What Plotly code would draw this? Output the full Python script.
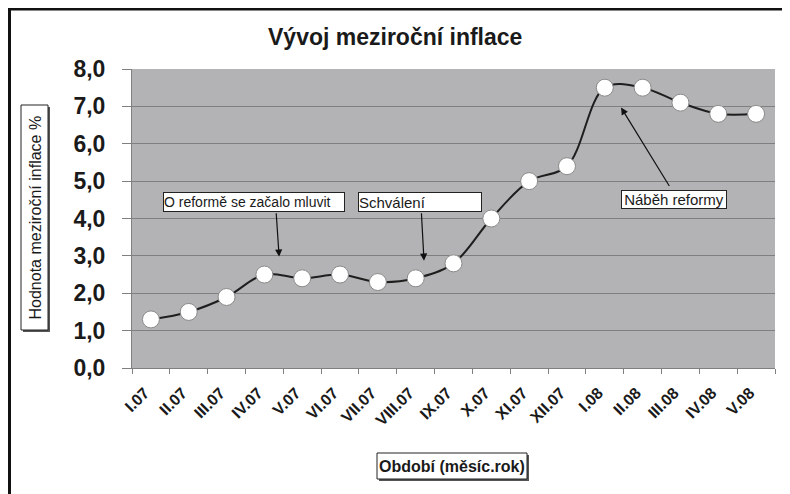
import plotly.graph_objects as go

months = ["I.07", "II.07", "III.07", "IV.07", "V.07", "VI.07", "VII.07", "VIII.07", "IX.07",
          "X.07", "XI.07", "XII.07", "I.08", "II.08", "III.08", "IV.08", "V.08"]
inflation = [1.3, 1.5, 1.9, 2.5, 2.4, 2.5, 2.3, 2.4, 2.8, 4.0, 5.0, 5.4, 7.5, 7.5, 7.1, 6.8, 6.8]
y_ticks = [0, 1, 2, 3, 4, 5, 6, 7, 8]

# the page body has an 8px margin, so the figure is drawn 8px right/down
OFF = 8
PAGE_W, PAGE_H = 790, 494
W, H = PAGE_W - OFF, PAGE_H - OFF
# plot area in page pixels: x 132..775, y 69..368
L, R, T, B = 132 - OFF, PAGE_W - 775, 69 - OFF, PAGE_H - 368
PW, PH = W - L - R, H - T - B

def px(x):  # page pixel -> paper
    return (x - OFF - L) / PW

def py(y):
    return (H - B - (y - OFF)) / PH

FONT = "Liberation Sans, Arial, sans-serif"
TXT = "#1a1a1a"

fig = go.Figure()
fig.add_trace(go.Scatter(
    x=months, y=inflation, mode="lines+markers",
    line=dict(color="#1e1e1e", width=2, shape="spline", smoothing=1.0),
    marker=dict(size=17, color="white", line=dict(color="#8a8a8a", width=1)),
    hoverinfo="x+y", showlegend=False,
))

shapes = []
# outer frame (top and left edges visible)
shapes.append(dict(type="line", xref="paper", yref="paper", x0=px(8), x1=px(792), y0=py(9), y1=py(9),
                   line=dict(color="#111", width=3), layer="above"))
shapes.append(dict(type="line", xref="paper", yref="paper", x0=px(9.5), x1=px(9.5), y0=py(8), y1=py(496),
                   line=dict(color="#111", width=3), layer="above"))

def boxed(x0, y0, x1, y1):
    shapes.append(dict(type="rect", xref="paper", yref="paper", x0=px(x0 + 2), x1=px(x1 + 2),
                       y0=py(y0 + 2), y1=py(y1 + 2), fillcolor="#555", line=dict(width=0), layer="above"))
    shapes.append(dict(type="rect", xref="paper", yref="paper", x0=px(x0), x1=px(x1),
                       y0=py(y0), y1=py(y1), fillcolor="white", line=dict(color="#222", width=1), layer="above"))

boxed(21, 105, 48, 330)
boxed(377, 453, 527, 479)

annotations = [
    dict(text="<b>Vývoj meziroční inflace</b>", xref="paper", yref="paper", x=px(395), y=py(37),
         showarrow=False, font=dict(family=FONT, size=23, color=TXT), xanchor="center", yanchor="middle"),
    dict(text="Hodnota meziroční inflace %", xref="paper", yref="paper", x=px(35), y=py(217.5),
         textangle=-90, showarrow=False, font=dict(family=FONT, size=16, color=TXT),
         xanchor="center", yanchor="middle"),
    dict(text="<b>Období (měsíc.rok)</b>", xref="paper", yref="paper", x=px(452), y=py(466),
         showarrow=False, font=dict(family=FONT, size=16, color=TXT), xanchor="center", yanchor="middle"),
]

# callout boxes
annotations += [
    dict(text="O reformě se začalo mluvit", x=2.72, y=4.45, xref="x", yref="y", showarrow=False,
         font=dict(family=FONT, size=14, color=TXT), bgcolor="white", bordercolor="#222", borderwidth=1,
         width=180, height=18, align="left", borderpad=0),
    dict(text="Schválení", x=7.11, y=4.45, xref="x", yref="y", showarrow=False,
         font=dict(family=FONT, size=15, color=TXT), bgcolor="white", bordercolor="#222", borderwidth=1,
         width=122, height=18, align="left", borderpad=0),
    dict(text="Náběh reformy", x=13.83, y=4.52, xref="x", yref="y", showarrow=False,
         font=dict(family=FONT, size=15, color=TXT), bgcolor="white", bordercolor="#222", borderwidth=1,
         width=104, height=17, align="center", borderpad=0),
]

# arrows
for (hx, hy, tx, ty) in [(3.39, 2.98, 3.31, 4.18), (7.22, 2.87, 7.15, 4.18), (12.43, 6.97, 13.73, 4.83)]:
    annotations.append(dict(x=hx, y=hy, ax=tx, ay=ty, xref="x", yref="y", axref="x", ayref="y",
                            text="", showarrow=True, arrowhead=2, arrowsize=1.2, arrowwidth=1.2,
                            arrowcolor="#111"))

fig.update_layout(
    width=W, height=H, margin=dict(l=L, r=R, t=T, b=B, autoexpand=False),
    paper_bgcolor="white", plot_bgcolor="#B3B3B5",
    separators=", ",
    shapes=shapes, annotations=annotations,
    xaxis=dict(type="category", range=[-0.5, len(months) - 0.5], tickson="boundaries",
               tickmode="array", tickvals=months, ticktext=[m + "\u00a0\u00a0" for m in months],
               ticks="outside", ticklen=5, tickcolor="#808080",
               tickangle=-45, showgrid=False, showline=True, linecolor="#808080", linewidth=1,
               tickfont=dict(family=FONT, size=16, color=TXT, weight="bold"), ticklabelstandoff=2,
               zeroline=False, fixedrange=True, automargin=False),
    yaxis=dict(range=[0, 8], tickvals=y_ticks, tickformat=".1f", ticks="outside", ticklen=9,
               tickcolor="#808080", showgrid=True, gridcolor="#7F7F7F", gridwidth=1,
               showline=True, linecolor="#808080", linewidth=1, zeroline=False,
               tickfont=dict(family=FONT, size=23, color=TXT, weight="bold"), ticklabelstandoff=12,
               fixedrange=True, automargin=False),
)

fig.write_html("out.html")
